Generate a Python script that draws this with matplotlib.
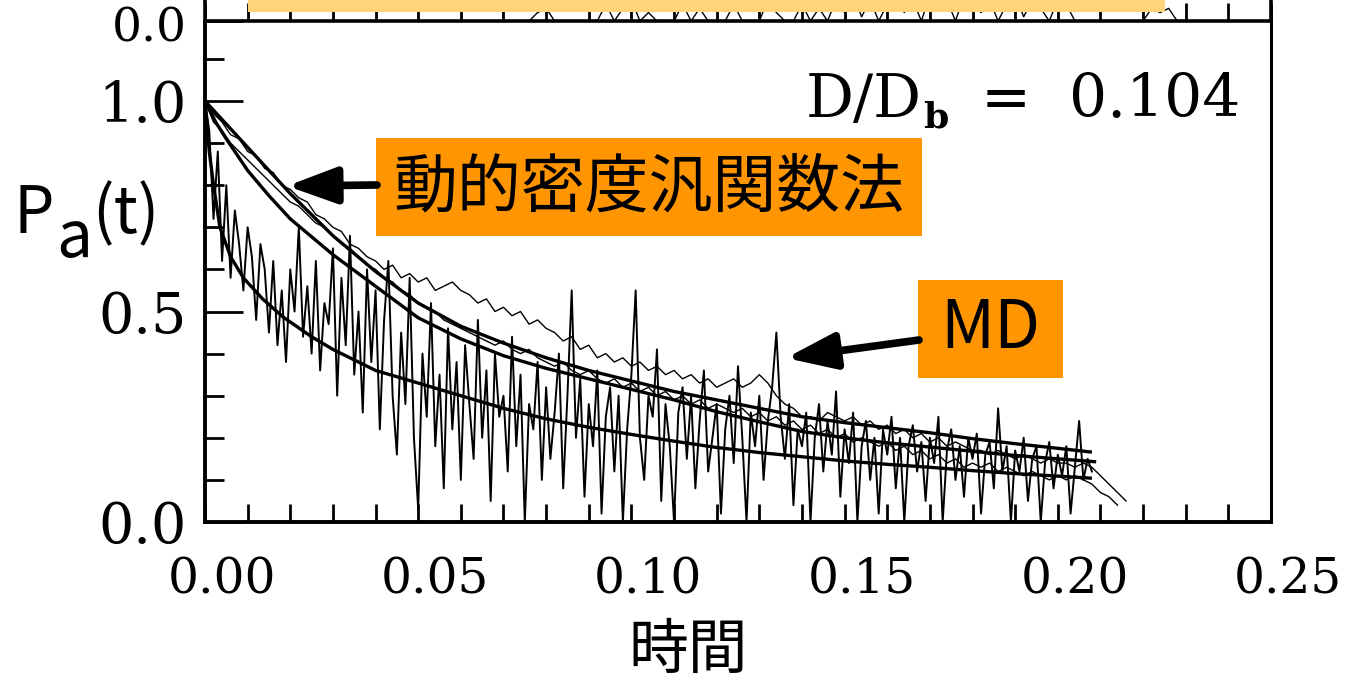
import numpy as np
import matplotlib
matplotlib.use("Agg")
import matplotlib.pyplot as plt
from matplotlib.patches import Rectangle, FancyArrowPatch, ArrowStyle
from matplotlib.transforms import ScaledTranslation

# ---------------- data ----------------
# smooth fit curves (dynamic density functional)
fit_top_t = [0, 0.005, 0.01, 0.015, 0.02, 0.03, 0.04, 0.05, 0.06, 0.07, 0.08, 0.09, 0.10,
             0.11, 0.12, 0.13, 0.14, 0.15, 0.16, 0.17, 0.18, 0.19, 0.20, 0.208]
fit_top_p = [1.0, 0.945, 0.89, 0.835, 0.78, 0.68, 0.595, 0.52, 0.465, 0.425, 0.39, 0.36, 0.335,
             0.31, 0.29, 0.27, 0.25, 0.236, 0.224, 0.212, 0.198, 0.186, 0.175, 0.166]

fit_mid_t = [0, 0.0025, 0.005, 0.01, 0.015, 0.02, 0.03, 0.04, 0.05, 0.06, 0.07, 0.08, 0.09,
             0.10, 0.11, 0.12, 0.13, 0.14, 0.15, 0.16, 0.17, 0.18, 0.19, 0.20, 0.209]
fit_mid_p = [1.0, 0.95, 0.91, 0.835, 0.775, 0.72, 0.635, 0.56, 0.485, 0.435, 0.395, 0.365, 0.34,
             0.315, 0.29, 0.262, 0.238, 0.215, 0.2, 0.188, 0.178, 0.168, 0.158, 0.15, 0.143]

fit_low_t = [0, 0.001, 0.002, 0.0035, 0.006, 0.009, 0.0135, 0.0183, 0.025, 0.03, 0.04, 0.05,
             0.06, 0.07, 0.08, 0.09, 0.10, 0.11, 0.12, 0.13, 0.14, 0.15, 0.16, 0.17, 0.18,
             0.19, 0.20, 0.208]
fit_low_p = [1.0, 0.88, 0.80, 0.70, 0.63, 0.58, 0.53, 0.487, 0.44, 0.41, 0.36, 0.33,
             0.30, 0.27, 0.245, 0.225, 0.208, 0.192, 0.177, 0.165, 0.155, 0.145, 0.137, 0.13, 0.122,
             0.115, 0.109, 0.104]

# MD runs (noisy), sampled every 0.002 (runs a, b) and every 0.001 (run c)
md_a_step = 0.002
md_a = [1.0, 0.97, 0.95, 0.92, 0.91, 0.88, 0.87, 0.84, 0.83, 0.80, 0.79,
        0.77, 0.76, 0.73, 0.72, 0.70, 0.69, 0.66, 0.65, 0.63, 0.62,
        0.60, 0.61, 0.58, 0.59, 0.57, 0.58, 0.55, 0.56, 0.57, 0.55,
        0.54, 0.52, 0.53, 0.50, 0.51, 0.49, 0.50, 0.47, 0.48, 0.46,
        0.45, 0.43, 0.44, 0.41, 0.42, 0.39, 0.40, 0.38, 0.39, 0.37,
        0.38, 0.36, 0.37, 0.35, 0.36, 0.34, 0.35, 0.33, 0.34, 0.32,
        0.33, 0.34, 0.32, 0.33, 0.35, 0.33, 0.30, 0.28, 0.27, 0.25,
        0.25, 0.24, 0.26, 0.25, 0.24, 0.25, 0.23, 0.24, 0.22, 0.23,
        0.21, 0.22, 0.20, 0.21, 0.19, 0.20, 0.18, 0.19, 0.18, 0.17,
        0.17, 0.16, 0.17, 0.16, 0.15, 0.16, 0.15, 0.14, 0.15, 0.14,
        0.14, 0.13, 0.14, 0.13, 0.11, 0.09, 0.07, 0.05]

md_b_step = 0.002
md_b = [1.0, 0.95, 0.93, 0.90, 0.88, 0.86, 0.84, 0.82, 0.80, 0.78, 0.76,
        0.75, 0.73, 0.71, 0.70, 0.68, 0.66, 0.65, 0.63, 0.61, 0.60,
        0.58, 0.57, 0.55, 0.54, 0.52, 0.51, 0.50, 0.48, 0.47, 0.46,
        0.45, 0.44, 0.43, 0.42, 0.43, 0.41, 0.40, 0.41, 0.39, 0.38,
        0.37, 0.38, 0.36, 0.35, 0.36, 0.34, 0.33, 0.34, 0.32, 0.33,
        0.31, 0.32, 0.30, 0.31, 0.29, 0.30, 0.28, 0.29, 0.27, 0.28,
        0.27, 0.26, 0.27, 0.25, 0.26, 0.24, 0.25, 0.23, 0.24, 0.22,
        0.23, 0.21, 0.22, 0.20, 0.21, 0.19, 0.20, 0.19, 0.18, 0.19,
        0.17, 0.18, 0.16, 0.17, 0.15, 0.16, 0.14, 0.15, 0.13, 0.14,
        0.13, 0.14, 0.12, 0.13, 0.12, 0.11, 0.12, 0.11, 0.10, 0.11,
        0.10, 0.11, 0.10, 0.09, 0.07, 0.06, 0.04]

md_c_step = 0.001
md_c = [1.0, 0.93, 0.72, 0.88, 0.62, 0.80, 0.58, 0.74, 0.66, 0.55,
        0.70, 0.63, 0.48, 0.66, 0.60, 0.45, 0.62, 0.42, 0.55, 0.38,
        0.60, 0.50, 0.70, 0.44, 0.56, 0.40, 0.62, 0.36, 0.52, 0.47,
        0.65, 0.30, 0.58, 0.42, 0.68, 0.35, 0.50, 0.26, 0.60, 0.38,
        0.55, 0.22, 0.48, 0.62, 0.30, 0.16, 0.45, 0.28, 0.58, 0.20,
        0.03, 0.40, 0.25, 0.52, 0.18, 0.35, 0.08, 0.46, 0.22, 0.38,
        0.10, 0.42, 0.28, 0.15, 0.48, 0.20, 0.36, 0.05, 0.40, 0.25,
        0.30, 0.12, 0.44, 0.18, 0.35, 0.00, 0.28, 0.22, 0.38, 0.10,
        0.32, 0.15, 0.26, 0.40, 0.08, 0.30, 0.55, 0.20, 0.34, 0.06,
        0.28, 0.18, 0.36, 0.02, 0.25, 0.32, 0.12, 0.30, 0.00, 0.22,
        0.35, 0.55, 0.20, 0.10, 0.30, 0.25, 0.41, 0.05, 0.28, 0.18,
        0.00, 0.26, 0.32, 0.15, 0.30, 0.08, 0.24, 0.36, 0.12, 0.20,
        0.28, 0.02, 0.22, 0.30, 0.14, 0.37, 0.20, 0.00, 0.26, 0.18,
        0.30, 0.10, 0.24, 0.32, 0.45, 0.25, 0.15, 0.28, 0.04, 0.22,
        0.18, 0.26, 0.00, 0.20, 0.28, 0.12, 0.24, 0.16, 0.31, 0.06,
        0.22, 0.14, 0.26, 0.00, 0.18, 0.24, 0.10, 0.20, 0.02, 0.22,
        0.16, 0.25, 0.08, 0.20, 0.00, 0.18, 0.23, 0.12, 0.19, 0.05,
        0.20, 0.14, 0.25, 0.00, 0.17, 0.22, 0.10, 0.18, 0.06, 0.20,
        0.15, 0.21, 0.02, 0.16, 0.19, 0.08, 0.27, 0.12, 0.18, 0.00,
        0.17, 0.12, 0.20, 0.05, 0.15, 0.18, 0.00, 0.14, 0.19, 0.08,
        0.16, 0.11, 0.18, 0.02, 0.13, 0.24, 0.10, 0.15, 0.12]

# remnant of the panel above (only its bottom edge is visible)
upper_t0 = 0.076
upper_step = 0.002
upper_p = [0, 0.02, 0.03, 0.0, 0.0, 0.0, 0.0, 0.0, 0.0, 0.04,
           0.0, 0.03, 0.05, 0.0, 0.02, 0.0, 0.0, 0.0, 0.04, 0.0,
           0.03, 0.0, 0.0, 0.0, 0.04, 0.0, 0.0, 0.0, 0.05, 0.02,
           0.0, 0.0, 0.04, 0.0, 0.03, 0.0, 0.05, 0.02, 0.06, 0.01,
           0.05, 0.0, 0.04, 0.06, 0.02, 0.05, 0.0, 0.06, 0.03, 0.05,
           0.0, 0.06, 0.04, 0.02, 0.05, 0.0, 0.04, 0.06, 0.01, 0.05,
           0.03, 0.0, 0.05, 0.04, 0.0, 0.0, 0.0, 0.0, 0.0, 0.0,
           0.0, 0.0, 0.0, 0.03, 0.02, 0.03, 0.0, 0.0, 0.0]

x_ticks = [0.00, 0.05, 0.10, 0.15, 0.20, 0.25]
x_ticklabels = ["0.00", "0.05", "0.10", "0.15", "0.20", "0.25"]
y_ticks = [0.0, 0.5, 1.0]
y_ticklabels = ["0.0", "0.5", "1.0"]
x_label = "時間"
annot_ddf = "動的密度汎関数法"
annot_md = "MD"
ratio_value = "0.104"

# ---------------- figure ----------------
W, H, DPI = 1348, 684, 100
fig = plt.figure(figsize=(W / DPI, H / DPI), dpi=DPI)
fig.patch.set_facecolor("white")

def fx(px):
    return px / W

def fy(py):
    return 1 - py / H

AX_L, AX_R, AX_T, AX_B = 205, 1271, 21, 522
YTOP = (AX_B - AX_T) / 421.0
serif = "DejaVu Serif"
cjk = ["Noto Sans CJK JP", "DejaVu Sans"]

# upper panel remnant
axu = fig.add_axes([fx(AX_L), fy(AX_T), (AX_R - AX_L) / W, (AX_B - AX_T) / H])
axu.set_xlim(0, 0.25)
axu.set_ylim(0, YTOP)
tu = upper_t0 + upper_step * np.arange(len(upper_p))
axu.plot(tu, upper_p, color="black", lw=1.0)
for s in ["left", "right", "bottom"]:
    axu.spines[s].set_linewidth(2.6)
axu.spines["top"].set_visible(False)
axu.set_xticks(np.arange(0, 0.2501, 0.01))
axu.tick_params(axis="x", direction="in", length=13, width=2.0, labelbottom=False)
axu.set_yticks([0.0])
axu.set_yticklabels(["0.0"], fontfamily=serif, fontsize=34)
axu.tick_params(axis="y", direction="in", length=27, width=2.0, pad=13)
for lab in axu.get_yticklabels():
    lab.set_transform(lab.get_transform() + ScaledTranslation(0, -3 / DPI, fig.dpi_scale_trans))

# main panel
ax = fig.add_axes([fx(AX_L), fy(AX_B), (AX_R - AX_L) / W, (AX_B - AX_T) / H])
ax.set_xlim(0, 0.25)
ax.set_ylim(0, YTOP)
ax.patch.set_alpha(0)

ta = md_a_step * np.arange(len(md_a))
tb = md_b_step * np.arange(len(md_b))
tc = md_c_step * np.arange(len(md_c))
ax.plot(tc, md_c, color="black", lw=1.4)
ax.plot(ta, md_a, color="black", lw=1.0)
ax.plot(tb, md_b, color="black", lw=1.0)
for tt, pp in [(fit_top_t, fit_top_p), (fit_mid_t, fit_mid_p), (fit_low_t, fit_low_p)]:
    ax.plot(tt, pp, color="black", lw=2.4, solid_capstyle="butt")

for s in ["left", "bottom", "right"]:
    ax.spines[s].set_linewidth(2.8)
ax.spines["right"].set_linewidth(2.2)
ax.spines["top"].set_visible(False)

ax.set_xticks(x_ticks)
ax.set_xticks(np.arange(0, 0.2501, 0.01), minor=True)
ax.set_xticklabels(x_ticklabels, fontfamily=serif, fontsize=35)
ax.tick_params(axis="x", which="both", direction="in", length=13, width=2.0, pad=25)
ax.set_yticks(y_ticks)
ax.set_yticks(np.arange(0, 1.15, 0.1), minor=True)
ax.set_yticklabels(y_ticklabels, fontfamily=serif, fontsize=40)
ax.tick_params(axis="y", which="major", direction="in", length=27, width=2.0, pad=13)
ax.tick_params(axis="y", which="minor", direction="in", length=13.5, width=2.0)
shift = ScaledTranslation(17 / DPI, 0, fig.dpi_scale_trans)
for lab in ax.get_xticklabels():
    lab.set_transform(lab.get_transform() + shift)

# D/Db annotation
fig.text(fx(922), fy(117), "D/D", fontfamily=serif, fontsize=43,
         ha="right", va="baseline")
fig.text(fx(923), fy(128), "b", fontfamily=serif, fontsize=26, fontweight="bold",
         ha="left", va="baseline")
fig.text(fx(1006), fy(117), "=", fontfamily=serif, fontsize=43,
         ha="center", va="baseline")
fig.text(fx(1240), fy(117), ratio_value, fontfamily=serif, fontsize=43,
         ha="right", va="baseline")

# y label P_a(t)
fig.text(fx(14), fy(233), "P", fontfamily=cjk, fontsize=46, ha="left", va="baseline")
fig.text(fx(56), fy(257), "a", fontfamily=cjk, fontsize=46, ha="left", va="baseline")
fig.text(fx(92), fy(233), "(t)", fontfamily=cjk, fontsize=46, ha="left", va="baseline")

# x label
fig.text(fx(688), fy(651), x_label, fontfamily=cjk, fontsize=43, ha="center", va="center")

# yellow bar at the top (cut off)
fig.add_artist(Rectangle((fx(248), fy(12)), fx(1165) - fx(248), fy(0) - fy(12),
                         transform=fig.transFigure, facecolor="#FFD47A",
                         edgecolor="none", zorder=10))

# orange annotation boxes
fig.add_artist(Rectangle((fx(376), fy(236)), fx(922) - fx(376), fy(138) - fy(236),
                         transform=fig.transFigure, facecolor="#FF9500",
                         edgecolor="none", zorder=10))
fig.text(fx(649), fy(188), annot_ddf, fontfamily=cjk, fontsize=46,
         ha="center", va="center", zorder=11)
fig.add_artist(Rectangle((fx(918), fy(378)), fx(1063) - fx(918), fy(280) - fy(378),
                         transform=fig.transFigure, facecolor="#FF9500",
                         edgecolor="none", zorder=10))
fig.text(fx(990), fy(329), annot_md, fontfamily=cjk, fontsize=48,
         ha="center", va="center", zorder=11)

style = ArrowStyle("-|>", head_length=30, head_width=11)
for (x0, y0), (x1, y1) in [((377, 185), (287, 186)), ((919, 340), (786, 358))]:
    arr = FancyArrowPatch((fx(x0), fy(y0)), (fx(x1), fy(y1)), transform=fig.transFigure,
                          arrowstyle=style, mutation_scale=1, lw=5.5, color="black",
                          shrinkA=0, shrinkB=0, capstyle="round", joinstyle="round",
                          zorder=12)
    fig.add_artist(arr)

fig.savefig("out.png", dpi=DPI)
